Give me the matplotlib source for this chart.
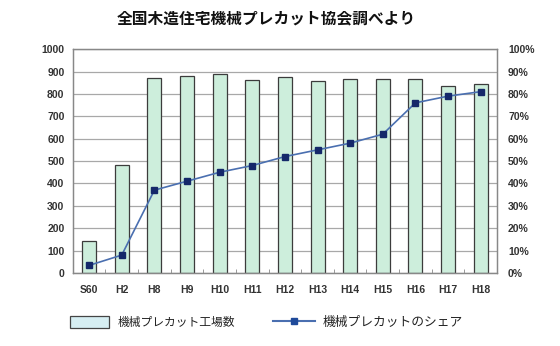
import numpy as np
import matplotlib
matplotlib.use("Agg")
import matplotlib.pyplot as plt
from matplotlib.patches import Patch
from matplotlib.lines import Line2D

plt.rcParams['font.family'] = ['Noto Sans CJK JP', 'DejaVu Sans']

years = ["S60", "H2", "H8", "H9", "H10", "H11", "H12", "H13", "H14", "H15", "H16", "H17", "H18"]
factories = [143, 482, 872, 881, 888, 863, 875, 856, 866, 867, 867, 836, 844]
share = [3.4, 8.0, 37, 41, 45, 48, 52, 55, 58, 62, 76, 79, 81]

bar_face = "#cdeedc"
bar_edge = "#3c3c3c"
line_col = "#4a6fb0"
mark_col = "#15286a"
tick_font = ['Liberation Sans', 'DejaVu Sans']

fig = plt.figure(figsize=(5.6, 3.46), dpi=100)
ax = fig.add_axes([0.130, 0.211, 0.7575, 0.647])
x = np.arange(len(years))

ax.set_axisbelow(True)
ax.yaxis.grid(True, color="#a8a8a8", linewidth=0.9)
ax.bar(x, factories, width=0.43, color=bar_face, edgecolor=bar_edge, linewidth=0.9)
ax.set_xlim(-0.5, len(years) - 0.5)
ax.set_ylim(0, 1000)
ax.set_yticks(np.arange(0, 1001, 100))
ax.set_xticks(x)
ax.set_xticklabels(years)
ax.set_xticks(np.arange(0.5, len(years) - 1, 1), minor=True)
ax.tick_params(axis='x', which='major', length=0, pad=9)
ax.tick_params(axis='x', which='minor', length=3, direction='in', color="#888888")
ax.tick_params(axis='y', length=0, pad=6)
for lab in ax.get_xticklabels() + ax.get_yticklabels():
    lab.set_family(tick_font)
    lab.set_fontsize(7.5)
    lab.set_fontweight('bold')
    lab.set_color("#333333")
for s in ax.spines.values():
    s.set_color("#888888")
    s.set_linewidth(0.9)

ax2 = ax.twinx()
ax2.plot(x, share, color=line_col, linewidth=1.2, marker='s', markersize=4.5,
         markerfacecolor=mark_col, markeredgecolor=mark_col)
ax2.set_ylim(0, 100)
ax2.set_yticks(np.arange(0, 101, 10))
ax2.set_yticklabels([f"{v}%" for v in range(0, 101, 10)])
ax2.tick_params(axis='y', length=0, pad=8)
for lab in ax2.get_yticklabels():
    lab.set_family(tick_font)
    lab.set_fontsize(7.5)
    lab.set_fontweight('bold')
    lab.set_color("#333333")
for s in ax2.spines.values():
    s.set_color("#888888")
    s.set_linewidth(0.9)

fig.text(0.475, 0.948, "全国木造住宅機械プレカット協会調べより", ha='center', va='center',
         fontsize=11.3, fontweight='bold', color="#111111")

leg1 = fig.legend([Patch(facecolor="#d6eef2", edgecolor="#444444", linewidth=0.9)],
                  ["機械プレカット工場数"], loc='center left',
                  bbox_to_anchor=(0.125, 0.069), frameon=False, fontsize=8.5,
                  borderpad=0, borderaxespad=0, handlelength=3.3, handleheight=1.2,
                  handletextpad=0.7)
leg2 = fig.legend([Line2D([0], [0], color=line_col, linewidth=1.5, marker='s', markersize=5,
                          markerfacecolor="#1f4a9a", markeredgecolor="#1f4a9a")],
                  ["機械プレカットのシェア"], loc='center left',
                  bbox_to_anchor=(0.4875, 0.069), frameon=False, fontsize=9.2,
                  borderpad=0, borderaxespad=0, handlelength=3.3, handletextpad=0.55)
for t in leg1.get_texts() + leg2.get_texts():
    t.set_color("#222222")

fig.savefig("out.png", dpi=100)
